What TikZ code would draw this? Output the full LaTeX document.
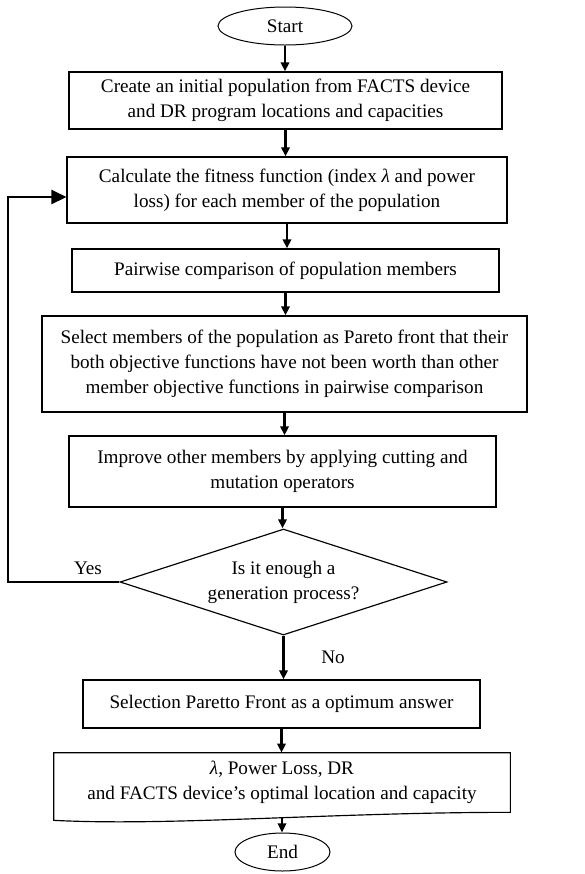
\documentclass[tikz,border=0pt]{standalone}
\usepackage{fontspec}
\setmainfont{Liberation Serif}
\usetikzlibrary{shapes.geometric,arrows.meta}

\begin{document}
\begin{tikzpicture}[x=0.6pt, y=-0.6pt,
  every node/.style={font=\fontsize{11.5}{15}\selectfont, align=center, inner sep=0pt},
  terminal/.style={draw, ellipse, line width=0.6pt, minimum height=22.8pt},
  procbox/.style={draw, rectangle, line width=0.7pt},
  decision/.style={draw, diamond, line width=0.7pt, aspect=3.08, minimum width=196.2pt, minimum height=63.6pt},
  flow/.style={line width=1.5pt, -{Triangle[length=5.5pt, width=5pt]}},
  loopback/.style={line width=1.2pt, -{Triangle[length=9pt, width=8.5pt]}}]

  \useasboundingbox (0,0) rectangle (585,874);

  % start and stop terminals
  \node[terminal, minimum width=80.4pt] (start) at (285,26) {Start};
  \node[terminal, minimum width=57pt] (stop) at (282.5,852) {End};

  % process boxes, top to bottom
  \node[procbox, minimum width=259.8pt, minimum height=34.2pt] (init) at (285.5,100.5)
    {Create an initial population from FACTS device\\ and DR program locations and capacities};
  \node[procbox, minimum width=264pt, minimum height=39.6pt] (fitness) at (287,190)
    {Calculate the fitness function (index {\itshape λ} and power\\ loss) for each member of the population};
  \node[procbox, minimum width=256.2pt, minimum height=25.8pt] (pairwise) at (285.5,270.5)
    {Pairwise comparison of population members};
  \node[procbox, minimum width=291pt, minimum height=57.6pt] (pareto) at (284.5,364)
    {Select members of the population as Pareto front that their\\ both objective functions have not been worth than other\\ member objective functions in pairwise comparison};
  \node[procbox, minimum width=256.2pt, minimum height=42.6pt] (improve) at (282.5,471.5)
    {Improve other members by applying cutting and\\ mutation operators};

  % stopping test
  \node[decision] (test) at (283.5,582) {Is it enough a\\ generation process?};

  \node[procbox, minimum width=238.2pt, minimum height=28.8pt] (optimum) at (281.5,704)
    {Selection Paretto Front as a optimum answer};

  % output document, wavy lower edge
  \node[minimum width=273.6pt, minimum height=35.4pt] (report) at (282,782.5)
    {{\itshape λ}, Power Loss, DR\\ and FACTS device’s optimal location and capacity};
  \draw[line width=0.7pt] (report.north east) -- (report.north west)
    -- ([yshift=-4.8pt]report.south west)
    .. controls +(116,6) and +(-180,0) .. (report.south east) -- cycle;
  \coordinate (wave) at ([yshift=-3pt]report.south);

  % main flow
  \foreach \a/\b in {start/init, init/fitness, fitness/pairwise, pairwise/pareto,
                     pareto/improve, improve/test, test/optimum, optimum/report}
    \draw[flow] (\a.south) -- (\a.south |- \b.north);
  \draw[flow] (wave) -- (wave |- stop.north);

  % repeat loop
  \coordinate (rail) at (8,197);
  \draw[loopback] (test.west) -| (rail) -- (rail -| fitness.west);

  \node (yes) at (88,568) {Yes};
  \node (no) at (333,657) {No};

\end{tikzpicture}
\end{document}
